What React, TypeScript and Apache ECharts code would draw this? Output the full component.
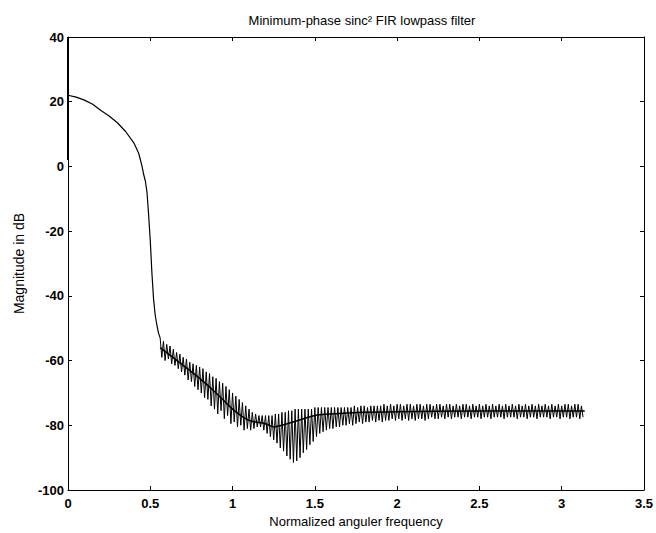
import React, { useEffect, useRef } from "react";
import * as echarts from "echarts";

// Passband / transition (rad, dB)
const passX = [0, 0.05, 0.1, 0.15, 0.2, 0.25, 0.3, 0.35, 0.4, 0.43, 0.45, 0.46, 0.47, 0.48, 0.49, 0.5, 0.51, 0.52, 0.53, 0.54, 0.55, 0.56];
const passY = [22, 21.4, 20.5, 19.2, 17.3, 15.6, 13.5, 10.8, 7.3, 4, 0, -2.5, -4.5, -8, -15, -23, -33, -41, -46, -49, -51.5, -53];

// Stopband ripple: frequencies start and step, upper and lower extremes (dB)
const stopStart = 0.56;
const stopStep = 0.02;
const stopHi = [
  -53, -54, -55, -55.5, -56.5, -57.5, -58, -59, -59.5, -60.5,
  -61, -61.5, -62, -62.5, -63.5, -64, -65, -65.5, -66.5, -67,
  -68, -69, -70, -71, -72, -73, -74, -75, -76, -76.5,
  -77, -77, -77, -77, -77, -76.5, -76.5, -76, -76, -75.5,
  -75.5, -75, -75, -75, -75, -75, -75, -74.5, -74.5, -74.5,
  -74.5, -74.5, -74.5, -74.5, -74.5, -74.5, -74.5, -74.5, -74.5, -74,
  -74.5, -74, -74, -74.5, -74, -74, -74, -74, -73.5, -74,
  -73.5, -74, -73.5, -73.5, -74, -73.5, -73.5, -74, -73.5, -73.5,
  -74, -73.5, -73.5, -74, -73.5, -73.5, -74, -73.5, -73.5, -74,
  -73.5, -74, -73.5, -73.5, -74, -73.5, -74, -73.5, -74, -73.5,
  -74, -73.5, -74, -73.5, -74, -73.5, -74, -73.5, -74, -73.5,
  -74, -73.5, -74, -73.5, -74, -73.5, -74, -73.5, -74, -73.5,
  -74, -73.5, -74, -73.5, -73.5, -74, -73.5, -73.5, -74,
];
const stopLo = [
  -59, -60, -59.5, -61, -61.5, -62.5, -63.5, -64.5, -66, -66.5,
  -68, -69, -70, -71.5, -72, -74, -75, -76.5, -75.5, -78,
  -77, -79.5, -79, -80.5, -80, -81.5, -81, -81.5, -81, -80.5,
  -80.5, -81.5, -82.5, -83.5, -84.5, -85.5, -87, -88, -89.5, -90.5,
  -91.5, -91, -90, -88.5, -87.5, -86, -85, -83.5, -82.5, -82,
  -81.5, -81, -81, -80.5, -80.5, -80, -80, -79.5, -80, -79.5,
  -79, -79.5, -79, -79, -78.5, -79, -78.5, -79, -78.5, -78.5,
  -78, -78.5, -78, -78.5, -78, -78.5, -78, -78.5, -78, -78,
  -78.5, -78, -77.5, -78, -78, -77.5, -78, -77.5, -78, -77.5,
  -77.5, -78, -77.5, -77.5, -78, -77.5, -77.5, -78, -77.5, -77.5,
  -78, -77.5, -77.5, -77.5, -78, -77.5, -77.5, -77.5, -78, -77.5,
  -77.5, -78, -77.5, -77.5, -78, -77.5, -77.5, -77.5, -78, -77.5,
  -77.5, -78, -77.5, -77.5, -78, -77.5, -77.5, -78, -77.5,
];

// Dense centre trace through the ripple band
const midX = [0.56, 0.7, 0.8, 0.9, 1.0, 1.1, 1.2, 1.25, 1.3, 1.4, 1.5, 1.6, 1.8, 2.0, 2.5, 3.14];
const midY = [-56, -61.5, -65.5, -70, -75, -78.5, -79.5, -80.5, -80, -78.5, -77, -76.5, -76, -75.8, -75.6, -75.6];

// Spike at DC along the left edge
const edgeX = [0, 0];
const edgeY = [40, 2];

const xTicks = ["0", "0.5", "1", "1.5", "2", "2.5", "3", "3.5"];

export default function App() {
  const ref = useRef<HTMLDivElement>(null);
  useEffect(() => {
    if (!ref.current) return;
    const chart = echarts.init(ref.current, null, { renderer: "svg" });

    const passData = passX.map((x, i) => [x, passY[i]]);
    const stopData: number[][] = [];
    stopHi.forEach((h, i) => {
      const x = stopStart + i * stopStep;
      stopData.push([x, h]);
      stopData.push([x + stopStep / 2, stopLo[i]]);
    });
    const midData = midX.map((x, i) => [x, midY[i]]);
    const edgeData = edgeX.map((x, i) => [x, edgeY[i]]);

    const font = "Liberation Sans, Arial, sans-serif";
    const lbl = { color: "#000", fontFamily: font, fontSize: 13, fontWeight: "bold" as const };
    const nameStyle = { color: "#000", fontFamily: font, fontSize: 13, fontWeight: "normal" as const };
    const axisLine = { show: true, onZero: false, lineStyle: { color: "#000", width: 1 } };
    const tick = { show: true, inside: true, length: 4, lineStyle: { color: "#000" } };

    chart.setOption({
      animation: false,
      backgroundColor: "#fff",
      title: {
        text: "Minimum-phase sinc² FIR lowpass filter",
        left: 357,
        top: 9,
        textAlign: "center",
        textStyle: nameStyle,
      },
      grid: { left: 68, right: 10, top: 37, bottom: 43, containLabel: false },
      xAxis: [
        {
          type: "value",
          min: 0,
          max: 3.5,
          interval: 0.5,
          position: "bottom",
          axisLine,
          axisTick: tick,
          splitLine: { show: false },
          axisLabel: { ...lbl, margin: 7, formatter: (v: number) => xTicks[Math.round(v * 2)] ?? String(v) },
          name: "Normalized anguler frequency",
          nameLocation: "middle",
          nameGap: 22,
          nameTextStyle: nameStyle,
        },
        {
          type: "value",
          min: 0,
          max: 3.5,
          interval: 0.5,
          position: "top",
          axisLine,
          axisTick: tick,
          splitLine: { show: false },
          axisLabel: { show: false },
        },
      ],
      yAxis: [
        {
          type: "value",
          min: -100,
          max: 40,
          interval: 20,
          position: "left",
          axisLine,
          axisTick: tick,
          splitLine: { show: false },
          axisLabel: { ...lbl, margin: 4 },
          name: "Magnitude in dB",
          nameLocation: "middle",
          nameGap: 42,
          nameRotate: 90,
          nameTextStyle: { ...nameStyle, fontSize: 14 },
        },
        {
          type: "value",
          min: -100,
          max: 40,
          interval: 20,
          position: "right",
          axisLine,
          axisTick: tick,
          splitLine: { show: false },
          axisLabel: { show: false },
        },
      ],
      series: [
        {
          type: "line",
          data: passData,
          showSymbol: false,
          lineStyle: { color: "#000", width: 1.2 },
          clip: true,
        },
        {
          type: "line",
          data: stopData,
          showSymbol: false,
          lineStyle: { color: "#000", width: 1 },
          clip: true,
        },
        {
          type: "line",
          data: midData,
          showSymbol: false,
          smooth: 0.3,
          lineStyle: { color: "#000", width: 1.5 },
          clip: true,
        },
        {
          type: "line",
          data: edgeData,
          showSymbol: false,
          lineStyle: { color: "#000", width: 2 },
          clip: true,
        },
      ],
    });
    return () => chart.dispose();
  }, []);
  return <div ref={ref} style={{ position: "absolute", left: 0, top: 0, width: 656, height: 533 }} />;
}
